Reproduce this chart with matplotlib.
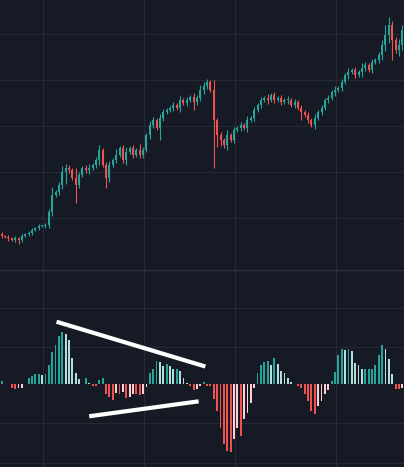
import matplotlib
matplotlib.use("Agg")
import matplotlib.pyplot as plt
import numpy as np

# close prices (arbitrary units)
close_y = [236, 237, 238, 240, 238, 240, 236, 234, 233, 230, 228, 226, 226, 225, 212,
           195, 192, 185, 172, 168, 170, 178, 185, 175, 168, 170, 168, 165, 160, 150,
           165, 178, 165, 160, 155, 148, 160, 152, 148, 155, 150, 155, 150, 135, 125,
           120, 128, 118, 112, 110, 108, 105, 108, 100, 103, 100, 97, 102, 98, 90,
           86, 82, 90, 120, 135, 140, 145, 135, 140, 130, 128, 125, 128, 120, 118,
           110, 105, 100, 98, 100, 95, 100, 98, 102, 100, 100, 105, 102, 108, 112,
           115, 120, 125, 118, 112, 108, 100, 98, 92, 90, 88, 82, 75, 72, 70,
           75, 72, 68, 65, 70, 62, 60, 55, 45, 35, 25, 40, 50, 45, 30]
close = [300 - y for y in close_y]
open_ = [close[0] + 2] + close[:-1]
# wick lengths above / below the body
wick_up = [2, 1, 2, 1, 2, 1, 2, 1, 2, 2, 1, 2, 1, 2, 3, 8, 2, 3, 6, 4, 3, 2, 10, 3, 2, 3, 4, 2, 3, 5,
           2, 3, 4, 2, 6, 2, 3, 5, 2, 3, 2, 6, 3, 2, 4, 3, 2, 4, 3, 2, 2, 3, 2, 4, 2, 3, 2, 4, 3, 5,
           4, 3, 2, 10, 2, 3, 2, 5, 2, 3, 2, 3, 2, 4, 2, 3, 2, 3, 2, 4, 2, 3, 2, 3, 2, 4, 2, 3, 2, 3,
           2, 3, 2, 4, 2, 3, 2, 3, 2, 4, 2, 3, 2, 4, 2, 3, 2, 5, 3, 2, 3, 2, 3, 5, 10, 8, 4, 3, 6, 5]
wick_dn = [2, 1, 3, 1, 2, 4, 2, 1, 2, 2, 1, 2, 1, 2, 3, 4, 2, 3, 4, 12, 3, 2, 18, 3, 2, 3, 4, 2, 3, 5,
           2, 10, 4, 2, 3, 2, 3, 5, 2, 3, 2, 3, 3, 2, 4, 3, 2, 12, 3, 2, 2, 3, 2, 4, 2, 3, 2, 8, 3, 3,
           4, 3, 2, 48, 12, 6, 3, 5, 2, 3, 2, 3, 2, 4, 2, 3, 2, 3, 2, 4, 2, 3, 2, 3, 2, 4, 2, 3, 2, 8,
           2, 3, 2, 4, 2, 3, 2, 3, 2, 4, 2, 3, 2, 4, 2, 3, 2, 5, 3, 2, 3, 2, 3, 5, 6, 8, 20, 3, 6, 5]

# MACD histogram
hist = [10, 2, 2, -12, -14, -12, -10, 2, 18, 25, 32, 32, 28, 32, 60, 98, 118, 145, 158, 152,
        135, 80, 35, 15, 2, 18, 4, -4, -6, 12, 20, -30, -38, -48, -25, -28, -22, -42, -38, -30,
        -30, -32, -30, -8, 35, 45, 72, 68, 55, 62, 55, 48, 48, 40, 18, 4, -5, -18, -15, -4,
        8, -4, -6, -45, -80, -130, -180, -200, -205, -165, -130, -155, -105, -85, -55, -12, 35, 60, 68, 72,
        58, 80, 62, 40, 35, 20, 8, 2, -5, -10, -30, -50, -80, -88, -65, -50, -30, -18, 10, 38,
        90, 108, 105, 108, 100, 65, 58, 48, 48, 48, 48, 58, 90, 118, 108, 78, 30, -15, -15, -10]

# trend lines drawn on the histogram (bar index, value)
line_hi = ([16.3, 60.5], [189, 54])
line_lo = ([26, 58.5], [-96, -51])

BG = "#161a25"
GRID = "#262a36"
UP = "#26a69a"
DN = "#ef5350"

fig = plt.figure(figsize=(4.04, 4.67), dpi=100, facecolor=BG)
ax1 = fig.add_axes([0, 1 - 270 / 467, 1, 270 / 467])
ax2 = fig.add_axes([0, 0, 1, 196 / 467])

n = len(close)
x = np.arange(n)
for ax in (ax1, ax2):
    ax.set_facecolor(BG)
    ax.set_xlim(-0.5, n - 0.5)
    ax.set_xticks([])
    ax.set_yticks([])
    for s in ax.spines.values():
        s.set_visible(False)
    for gx in [12.3, 42.4, 69.4, 99.3]:
        ax.axvline(gx, color=GRID, lw=0.8, zorder=0)

for gy in [266, 220, 174, 128, 82]:
    ax1.axhline(gy, color=GRID, lw=0.8, zorder=0)
for gy in [231, 114, -117, -237]:
    ax2.axhline(gy, color=GRID, lw=0.8, zorder=0)

# separator between panes
fig.add_artist(plt.Line2D([0, 1], [1 - 270 / 467] * 2, color="#2e323e", lw=1))

o = np.array(open_)
c = np.array(close)
hi = np.maximum(o, c) + np.array(wick_up)
lo = np.minimum(o, c) - np.array(wick_dn)
cols = [UP if cc >= oo else DN for oo, cc in zip(o, c)]
ax1.vlines(x, lo, hi, colors=cols, lw=0.8, zorder=2)
body = np.maximum(np.abs(c - o), 1)
ax1.bar(x, body, bottom=np.minimum(o, c), width=0.6, color=cols, zorder=3)
ax1.set_ylim(30, 300)

h = np.array(hist)
hcols = []
for i, v in enumerate(h):
    prev = h[i - 1] if i > 0 else 0
    if v >= 0:
        hcols.append(UP if v >= prev else "#b2dfdb")
    else:
        hcols.append(DN if v <= prev else "#ffcdd2")
ax2.bar(x, h, width=0.55, color=hcols, zorder=2)
ax2.set_ylim(-249, 342)
ax2.plot(*line_hi, color="white", lw=3, solid_capstyle="butt", zorder=4)
ax2.plot(*line_lo, color="white", lw=3, solid_capstyle="butt", zorder=4)

fig.savefig("out.png", dpi=100, facecolor=BG)
